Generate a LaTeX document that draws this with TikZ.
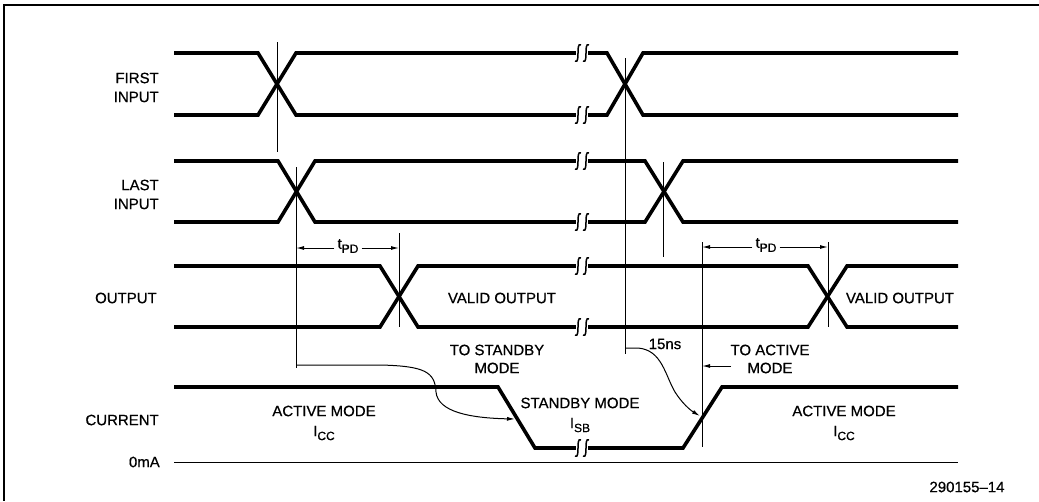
\documentclass[tikz,border=0pt]{standalone}
\usepackage{fontspec}
\setmainfont{Liberation Sans}
\newfontfamily\labfont{Liberation Sans}[FakeBold=0.6,Ligatures=TeX]
\usetikzlibrary{arrows.meta}
\newcommand{\subx}[1]{\raisebox{-4pt}{\fontsize{12}{12}\selectfont #1}}
\begin{document}
\begin{tikzpicture}[x=1pt,y=-1pt,
  every node/.style={font=\labfont\fontsize{15}{18}\selectfont,inner sep=0pt},
  sig/.style={line width=3.6pt,line join=miter},
  thin/.style={line width=1pt},
  lblr/.style={anchor=east},
  arr/.style={thin,-{Latex[length=8pt,width=4pt]}},
  brk/.pic={
    \fill[white] (-6,-10) rectangle (6,10);
    \draw[line width=1.5pt] (-1,-8) .. controls (-4,-10) and (-4,-4) .. (-4,0) .. controls (-4,4) and (-4,10) .. (-7,8);
    \draw[line width=1.5pt] (7,-8) .. controls (4,-10) and (4,-4) .. (4,0) .. controls (4,4) and (4,10) .. (1,8);
  }]
\useasboundingbox (0,0) rectangle (1039,501);
% frame
\draw[line width=1.5pt] (1039,5) -- (4,5) -- (4,501);

% labels on left
\node[lblr] (first1) at (159,78) {FIRST};
\node[lblr] (first2) at (159,97) {INPUT};
\node[lblr] (last1) at (159,185) {LAST};
\node[lblr] (last2) at (159,204) {INPUT};
\node[lblr] (outl) at (157,298) {OUTPUT};
\node[lblr] (curl) at (159,420) {CURRENT};
\node[lblr] (zero) at (160,462) {0mA};

% FIRST INPUT
\draw[sig] (174,53) -- (258,53) -- (296,115) -- (607,115) -- (643,53) -- (958,53);
\draw[sig] (174,115) -- (258,115) -- (296,53) -- (607,53) -- (643,115) -- (958,115);
\pic at (582,53) {brk};
\pic at (582,115) {brk};

% LAST INPUT
\draw[sig] (174,161) -- (278,161) -- (315,222) -- (645,222) -- (683,161) -- (958,161);
\draw[sig] (174,222) -- (278,222) -- (315,161) -- (645,161) -- (683,222) -- (958,222);
\pic at (582,161) {brk};
\pic at (582,222) {brk};

% OUTPUT
\draw[sig] (174,266) -- (380,266) -- (418,327) -- (808,327) -- (847,266) -- (958,266);
\draw[sig] (174,327) -- (380,327) -- (418,266) -- (808,266) -- (847,327) -- (958,327);
\pic at (582,266) {brk};
\pic at (582,327) {brk};

% CURRENT
\draw[thin] (174,462) -- (958,462);
\draw[sig] (174,387) -- (498,387) -- (535,448) -- (683,448) -- (722,387) -- (958,387);
\pic at (582,448) {brk};

% vertical reference lines
\coordinate (v1t) at (277,42);  \coordinate (v1b) at (277,152);
\coordinate (v2t) at (296,167); \coordinate (v2b) at (296,368);
\coordinate (v3t) at (399,233); \coordinate (v3b) at (399,327);
\coordinate (v4t) at (625,58);  \coordinate (v4b) at (625,354);
\coordinate (v5t) at (663,162); \coordinate (v5b) at (663,257);
\coordinate (v6t) at (702,242); \coordinate (v6b) at (702,447);
\coordinate (v7t) at (828,242); \coordinate (v7b) at (828,327);
\foreach \a in {1,...,7} {\draw[thin] (v\a t) -- (v\a b);}

% tPD dimension arrows
\node (tpd1) at (348,246) {t\subx{PD}};
\draw[arr] (tpd1.west) ++(-3,2) -- (296,248);
\draw[arr] (tpd1.east) ++(3,2) -- (399,248);
\node (tpd2) at (766,245) {t\subx{PD}};
\draw[arr] (tpd2.west) ++(-3,2) -- (702,247);
\draw[arr] (tpd2.east) ++(3,2) -- (828,247);

% texts
\node (valid1) at (502,298) {VALID OUTPUT};
\node (valid2) at (900,298) {VALID OUTPUT};
\node (tostb1) at (497,350) {TO STANDBY};
\node (tostb2) at (497,368) {MODE};
\node (toact1) at (770,350) {TO ACTIVE};
\node (toact2) at (770,368) {MODE};
\node (ns) at (665,344) {15ns};
\node (act1a) at (324,411) {ACTIVE MODE};
\node (act1b) at (324,433) {I\subx{CC}};
\node (stba) at (580,403) {STANDBY MODE};
\node (stbb) at (580,425) {I\subx{SB}};
\node (act2a) at (844,411) {ACTIVE MODE};
\node (act2b) at (844,433) {I\subx{CC}};
\node (fig) at (967,487) {290155\textendash 14};

% curved arrows
\coordinate (c1s) at (296,365);
\coordinate (c1e) at (515,419);
\draw[arr] (c1s) -- (380,365) .. controls (425,366) and (435,372) .. (436,392) .. controls (438,412) and (470,418) .. (c1e);
\coordinate (c2s) at (625,348);
\coordinate (c2e) at (700,416);
\draw[arr] (c2s) -- (638,348) .. controls (662,350) and (665,375) .. (675,392) .. controls (682,403) and (690,410) .. (c2e);
% to active mode arrow
\coordinate (ta) at (731,366);
\draw[arr] (ta) -- (702,366);
\end{tikzpicture}
\end{document}
